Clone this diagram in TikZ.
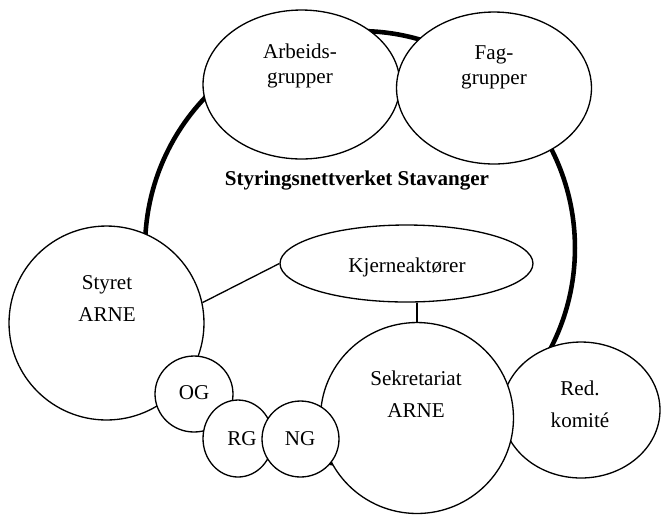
\documentclass[tikz,border=0pt]{standalone}
\usepackage{fontspec}
\setmainfont{Liberation Serif}
\usepackage{tikz}
\usetikzlibrary{positioning,shapes.geometric}

\begin{document}
\begin{tikzpicture}[
  x=0.02cm, y=-0.02cm,
  ring/.style={ellipse,draw,line width=2.6pt,inner sep=0pt,minimum width=8.6cm,minimum height=8.68cm},
  blob/.style={ellipse,draw,line width=0.75pt,fill=white,inner sep=0pt},
  txt/.style={font=\fontsize{12}{14.2}\selectfont,align=center,anchor=base,inner sep=0pt},
  link/.style={line width=0.75pt},
]
\useasboundingbox (0,0) rectangle (662,515);

% Network ring
\node[ring] (ring) at (360,248) {};

% Groups on the ring
\node[blob,minimum width=3.16cm,minimum height=2.72cm] (red)    at (581,410)   {};
\node[blob,minimum width=3.86cm,minimum height=3.82cm] (sekr)   at (417,418)   {};
\node[blob,minimum width=3.9cm,minimum height=3.88cm]  (styret) at (106.5,323) {};
\node[blob,minimum width=1.56cm,minimum height=1.52cm] (og)     at (194,394)   {};
\node[blob,minimum width=1.4cm,minimum height=1.54cm]  (rg)     at (238,438.5) {};
\node[blob,minimum width=1.54cm,minimum height=1.52cm] (ng)     at (300.5,439) {};
\node[blob,minimum width=5.06cm,minimum height=1.54cm] (kjerne) at (406.5,263.5) {};
\node[blob,minimum width=3.94cm,minimum height=2.98cm] (arb)    at (301.5,84.5) {};
\node[blob,minimum width=3.9cm,minimum height=3.04cm]  (fag)    at (494,88)    {};

% Links to the core
\draw[link] (styret.12) -- (kjerne.west);
\draw[link] (kjerne.south -| sekr.north) -- (sekr.north);

% Labels
\node[txt] (arbT)    at (300,83)  {Arbeids-\\grupper};
\node[txt] (fagT)    at (494,84)  {Fag-\\grupper};
\node[txt,font=\fontsize{12}{14.2}\selectfont\bfseries] (title) at (357,185) {Styringsnettverket Stavanger};
\node[txt] (styretT) at (107,321) {Styret\\[3.8pt]ARNE};
\node[txt] (kjerneT) at (407,272) {Kjerneaktører};
\node[txt] (sekrT)   at (416,417) {Sekretariat\\[3.8pt]ARNE};
\node[txt] (redT)    at (580,427) {Red.\\[3.8pt]komité};
\node[txt] (ogT)     at (194,399) {OG};
\node[txt] (rgT)     at (242,445) {RG};
\node[txt] (ngT)     at (300,445) {NG};

\end{tikzpicture}
\end{document}
